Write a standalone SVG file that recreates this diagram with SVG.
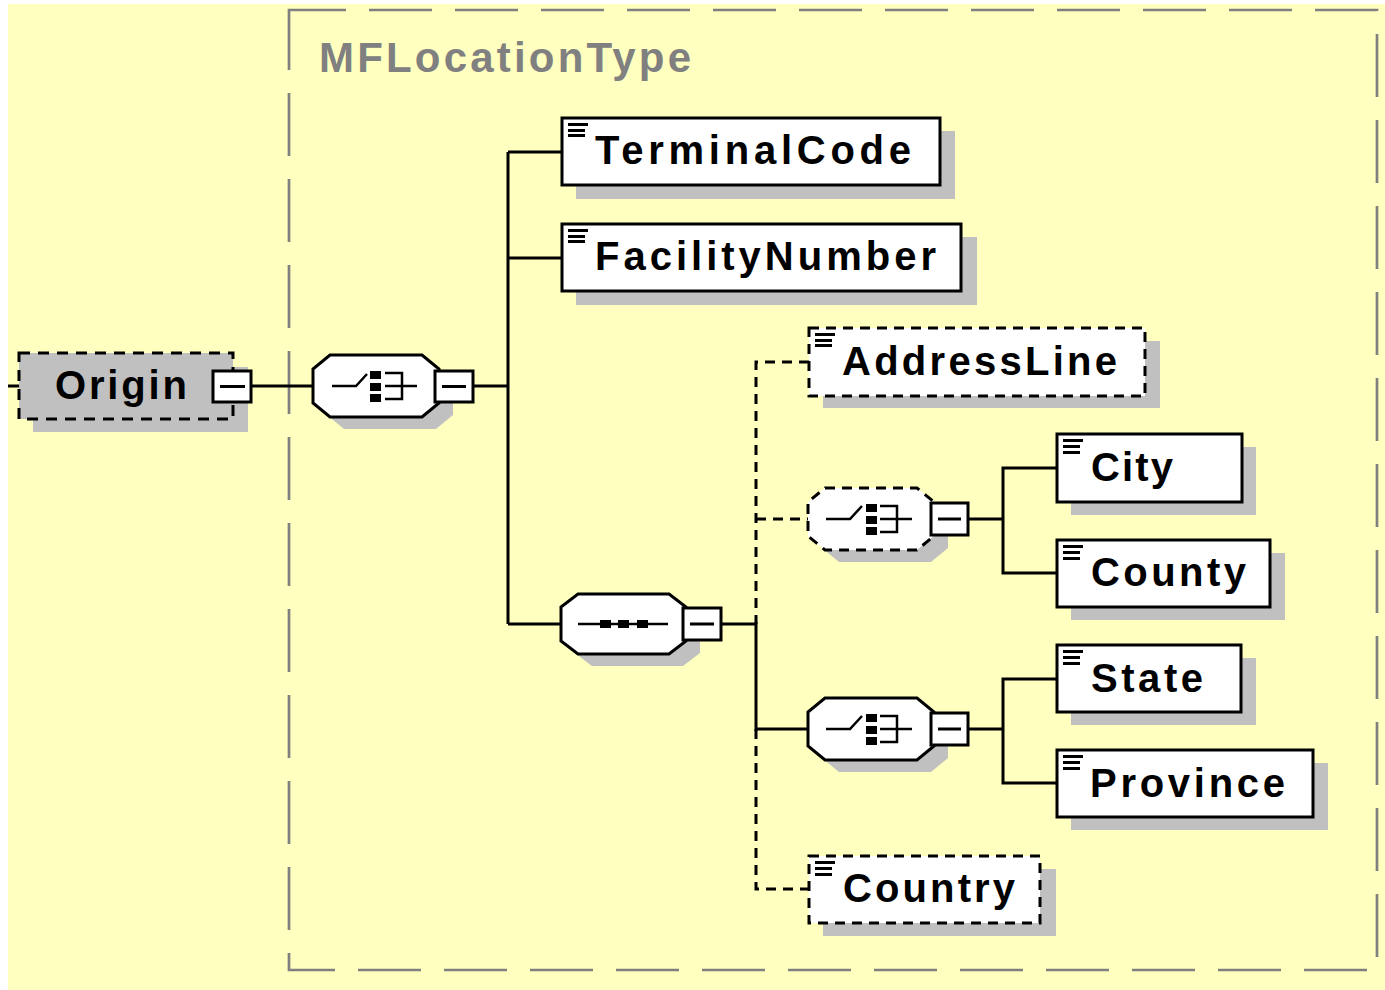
<svg xmlns="http://www.w3.org/2000/svg" width="1385" height="990" viewBox="0 0 1385 990">
<defs>
<style>
.bg{fill:#FFFFC0}
.type{fill:none;stroke:#808080;stroke-width:2.7;stroke-dasharray:63 23;stroke-dashoffset:6}
.title{font-family:"Liberation Sans",Arial,sans-serif;font-weight:bold;font-size:42px;fill:#808080}
.lbl{font-family:"Liberation Sans",Arial,sans-serif;font-weight:bold;font-size:40px;fill:#000}
.shadow{fill:#C0C0C0}
.box{fill:#fff;stroke:#000;stroke-width:3}
.dbox{fill:#fff;stroke:#000;stroke-width:3;stroke-dasharray:10 7}
.origin{fill:#C0C0C0;stroke:#000;stroke-width:3;stroke-dasharray:11 8}
.ln{fill:none;stroke:#000;stroke-width:3}
.dln{fill:none;stroke:#000;stroke-width:3;stroke-dasharray:10 7}
.ic{fill:#000}
.icl{fill:none;stroke:#000;stroke-width:2.5}
</style>
</defs>
<rect x="0" y="0" width="1385" height="990" fill="#fff"/>
<rect class="bg" x="8" y="4" width="1377" height="986"/>
<rect class="type" x="289" y="10" width="1088" height="960"/>
<text class="title" x="319" y="72" textLength="372" lengthAdjust="spacing">MFLocationType</text>

<g id="connectors">
<line class="ln" x1="8" y1="386" x2="19" y2="386"/>
<line class="ln" x1="251" y1="386" x2="313" y2="386"/>
<line class="ln" x1="473" y1="386" x2="508" y2="386"/>
<line class="ln" x1="508" y1="152" x2="508" y2="624"/>
<line class="ln" x1="508" y1="152" x2="562" y2="152"/>
<line class="ln" x1="508" y1="258" x2="562" y2="258"/>
<line class="ln" x1="508" y1="624" x2="561" y2="624"/>
<line class="ln" x1="721" y1="624" x2="756" y2="624"/>
<path class="dln" d="M809,362 H756 V624"/>
<line class="ln" x1="756" y1="622" x2="756" y2="731"/>
<path class="dln" d="M756,729 V889 H809"/>
<line class="dln" x1="756" y1="519" x2="808" y2="519"/>
<line class="ln" x1="756" y1="729" x2="808" y2="729"/>
<line class="ln" x1="968" y1="519" x2="1003" y2="519"/>
<path class="ln" d="M1057,468 H1003 V573 H1057"/>
<line class="ln" x1="968" y1="729" x2="1003" y2="729"/>
<path class="ln" d="M1057,679 H1003 V783 H1057"/>
</g>

<g id="origin">
<rect class="shadow" x="33" y="367" width="215" height="65"/>
<rect class="origin" x="19" y="353" width="214" height="66"/>
<text class="lbl" x="55" y="399" textLength="132" lengthAdjust="spacing">Origin</text>
<rect class="box" x="213" y="371" width="38" height="31"/>
<line class="ln" x1="220" y1="386.5" x2="245" y2="386.5"/>
</g>

<g id="choice1">
<path class="shadow" transform="translate(14,12)" d="M330,355 H422 L439,369 V403 L422,417 H330 L313,403 V369 Z"/>
<path class="box" d="M330,355 H422 L439,369 V403 L422,417 H330 L313,403 V369 Z"/>
<polyline class="icl" points="332,386 356,386 367,374"/>
<rect class="ic" x="370" y="371" width="11" height="8"/>
<rect class="ic" x="370" y="383" width="11" height="8"/>
<rect class="ic" x="370" y="394" width="11" height="8"/>
<path class="icl" d="M385,373 H402 V399 H385 M385,386 H417"/>
<rect class="box" x="435" y="371" width="38" height="31"/>
<line class="ln" x1="442" y1="386.5" x2="466" y2="386.5"/>
</g>

<g id="TerminalCode">
<rect class="shadow" x="576" y="131" width="379" height="68"/>
<rect class="box" x="562" y="118" width="378" height="67"/>
<rect class="ic" x="568" y="123" width="20" height="3"/>
<rect class="ic" x="568" y="129" width="17" height="3"/>
<rect class="ic" x="568" y="134" width="17" height="3"/>
<text class="lbl" x="595" y="164" textLength="316" lengthAdjust="spacing">TerminalCode</text>
</g>

<g id="FacilityNumber">
<rect class="shadow" x="576" y="237" width="401" height="68"/>
<rect class="box" x="562" y="224" width="399" height="67"/>
<rect class="ic" x="568" y="229" width="20" height="3"/>
<rect class="ic" x="568" y="235" width="17" height="3"/>
<rect class="ic" x="568" y="240" width="17" height="3"/>
<text class="lbl" x="595" y="270" textLength="341" lengthAdjust="spacing">FacilityNumber</text>
</g>

<g id="sequence">
<path class="shadow" transform="translate(14,12)" d="M578,594 H669 L686,607 V641 L669,654 H578 L561,641 V607 Z"/>
<path class="box" d="M578,594 H669 L686,607 V641 L669,654 H578 L561,641 V607 Z"/>
<line class="icl" x1="578" y1="624" x2="668" y2="624"/>
<rect class="ic" x="600" y="620" width="11" height="8"/>
<rect class="ic" x="618" y="620" width="11" height="8"/>
<rect class="ic" x="637" y="620" width="11" height="8"/>
<rect class="box" x="683" y="608" width="38" height="32"/>
<line class="ln" x1="690" y1="624" x2="714" y2="624"/>
</g>

<g id="AddressLine">
<rect class="shadow" x="823" y="341" width="337" height="67"/>
<rect class="dbox" x="809" y="328" width="336" height="68"/>
<rect class="ic" x="815" y="333" width="20" height="3"/>
<rect class="ic" x="815" y="339" width="17" height="3"/>
<rect class="ic" x="815" y="344" width="17" height="3"/>
<text class="lbl" x="842" y="375" textLength="275" lengthAdjust="spacing">AddressLine</text>
</g>

<g id="choice2">
<path class="shadow" transform="translate(14,12)" d="M825,488 H917 L934,502 V536 L917,550 H825 L808,536 V502 Z"/>
<path class="dbox" d="M825,488 H917 L934,502 V536 L917,550 H825 L808,536 V502 Z"/>
<polyline class="icl" points="826,519 850,519 862,506"/>
<rect class="ic" x="866" y="504" width="11" height="8"/>
<rect class="ic" x="866" y="516" width="11" height="8"/>
<rect class="ic" x="866" y="527" width="11" height="8"/>
<path class="icl" d="M880,506 H897 V532 H880 M880,519 H912"/>
<rect class="box" x="931" y="503" width="37" height="32"/>
<line class="ln" x1="938" y1="519" x2="961" y2="519"/>
</g>

<g id="City">
<rect class="shadow" x="1071" y="447" width="185" height="68"/>
<rect class="box" x="1057" y="434" width="185" height="68"/>
<rect class="ic" x="1063" y="439" width="20" height="3"/>
<rect class="ic" x="1063" y="445" width="17" height="3"/>
<rect class="ic" x="1063" y="451" width="17" height="3"/>
<text class="lbl" x="1091" y="481" textLength="82" lengthAdjust="spacing">City</text>
</g>

<g id="County">
<rect class="shadow" x="1071" y="553" width="214" height="67"/>
<rect class="box" x="1057" y="540" width="213" height="67"/>
<rect class="ic" x="1063" y="545" width="20" height="3"/>
<rect class="ic" x="1063" y="551" width="17" height="3"/>
<rect class="ic" x="1063" y="557" width="17" height="3"/>
<text class="lbl" x="1091" y="586" textLength="155" lengthAdjust="spacing">County</text>
</g>

<g id="choice3">
<path class="shadow" transform="translate(14,12)" d="M825,698 H917 L934,712 V746 L917,760 H825 L808,746 V712 Z"/>
<path class="box" d="M825,698 H917 L934,712 V746 L917,760 H825 L808,746 V712 Z"/>
<polyline class="icl" points="826,729 850,729 862,716"/>
<rect class="ic" x="866" y="714" width="11" height="8"/>
<rect class="ic" x="866" y="726" width="11" height="8"/>
<rect class="ic" x="866" y="737" width="11" height="8"/>
<path class="icl" d="M880,716 H897 V742 H880 M880,729 H912"/>
<rect class="box" x="931" y="713" width="37" height="32"/>
<line class="ln" x1="938" y1="729" x2="961" y2="729"/>
</g>

<g id="State">
<rect class="shadow" x="1071" y="658" width="185" height="67"/>
<rect class="box" x="1057" y="645" width="184" height="67"/>
<rect class="ic" x="1063" y="650" width="20" height="3"/>
<rect class="ic" x="1063" y="656" width="17" height="3"/>
<rect class="ic" x="1063" y="662" width="17" height="3"/>
<text class="lbl" x="1091" y="692" textLength="112" lengthAdjust="spacing">State</text>
</g>

<g id="Province">
<rect class="shadow" x="1071" y="763" width="257" height="67"/>
<rect class="box" x="1057" y="750" width="256" height="67"/>
<rect class="ic" x="1063" y="755" width="20" height="3"/>
<rect class="ic" x="1063" y="761" width="17" height="3"/>
<rect class="ic" x="1063" y="767" width="17" height="3"/>
<text class="lbl" x="1090" y="797" textLength="195" lengthAdjust="spacing">Province</text>
</g>

<g id="Country">
<rect class="shadow" x="823" y="869" width="233" height="67"/>
<rect class="dbox" x="809" y="856" width="231" height="67"/>
<rect class="ic" x="815" y="861" width="20" height="3"/>
<rect class="ic" x="815" y="867" width="17" height="3"/>
<rect class="ic" x="815" y="873" width="17" height="3"/>
<text class="lbl" x="843" y="902" textLength="172" lengthAdjust="spacing">Country</text>
</g>
</svg>
